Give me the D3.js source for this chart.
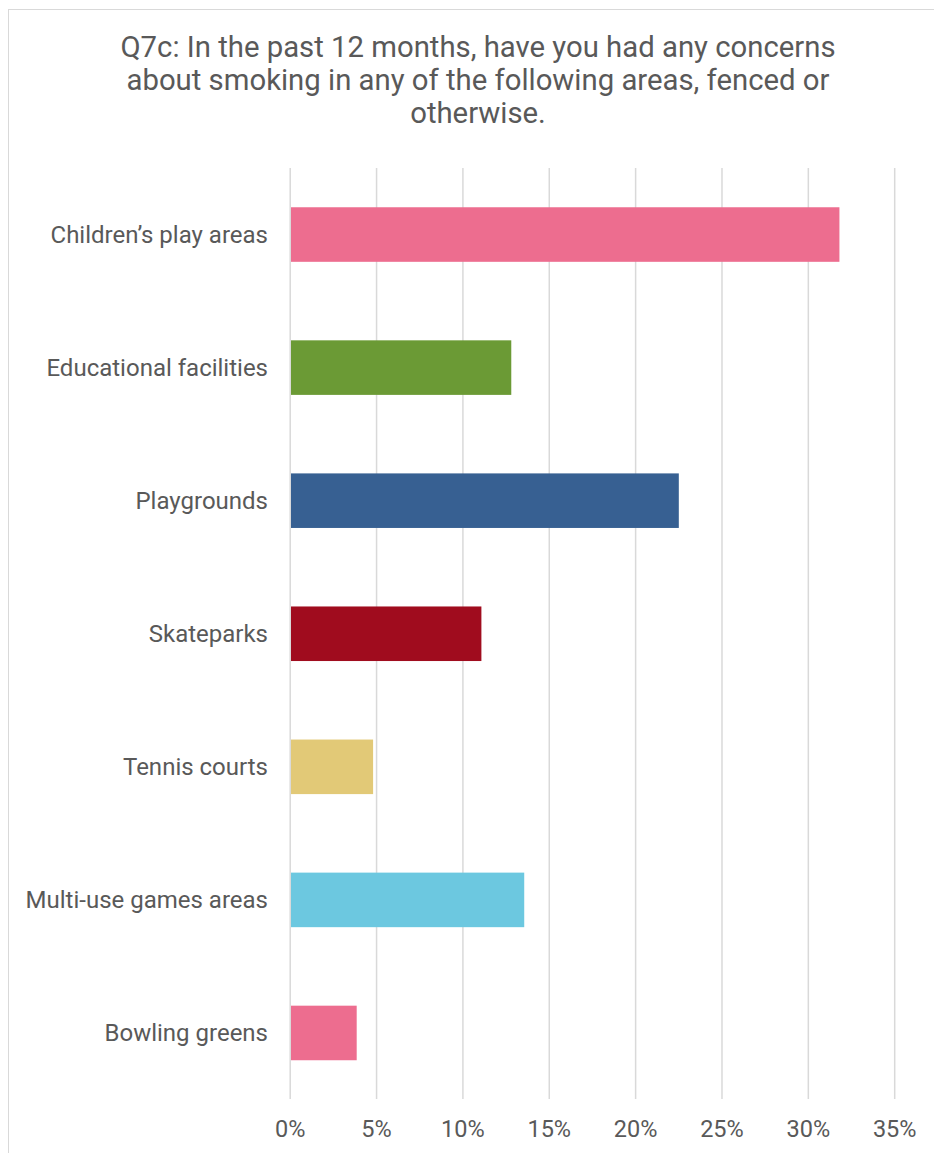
<!DOCTYPE html>
<html>
<head>
<meta charset="utf-8">
<script src="https://cdn.jsdelivr.net/npm/d3@7"></script>
<style>
  body { margin: 0; background: #fff; }
  svg { display: block; font-family: Roboto, "Noto Sans", sans-serif; }
</style>
</head>
<body>
<div id="viz"></div>
<script>
// Data
var categories = [
    'Children\u2019s play areas',
    'Educational facilities',
    'Playgrounds',
    'Skateparks',
    'Tennis courts',
    'Multi-use games areas',
    'Bowling greens'
];
var values = [31.8, 12.8, 22.5, 11.07, 4.8, 13.55, 3.85];
var barColors = ['#ED6D8F', '#6B9A35', '#376092', '#A00C1E', '#E2C977', '#6CC8E0', '#ED6D8F'];
var tickValues = [0, 5, 10, 15, 20, 25, 30, 35];
var titleLines = [
    'Q7c: In the past 12 months, have you had any concerns',
    'about smoking in any of the following areas, fenced or',
    'otherwise.'
];

var width = 934;
var height = 1153;
var textColor = '#595959';

var svg = d3.select('#viz')
    .append('svg')
    .attr('width', width)
    .attr('height', height);

// chart border (runs off the right and bottom edges)
svg.append('rect')
    .attr('x', 8.5)
    .attr('y', 9.5)
    .attr('width', 940)
    .attr('height', 1160)
    .attr('fill', 'none')
    .attr('stroke', '#d9d9d9')
    .attr('stroke-width', 1);

// title
svg.append('text')
    .attr('x', 478)
    .attr('y', 57)
    .attr('text-anchor', 'middle')
    .attr('fill', textColor)
    .style('font-size', '29.3px')
    .selectAll('tspan')
    .data(titleLines)
    .enter().append('tspan')
    .attr('x', 478)
    .attr('dy', function (d, i) { return i === 0 ? 0 : 33; })
    .text(function (d) { return d; });

var x = d3.scaleLinear()
    .domain([0, 35])
    .range([290.2, 894.7]);

var y = d3.scaleBand()
    .domain(categories)
    .range([168, 1099.5])
    .paddingInner(0.59)
    .paddingOuter(0.295);

// gridlines
svg.append('g')
    .selectAll('line')
    .data(tickValues)
    .enter().append('line')
    .attr('x1', function (d) { return x(d); })
    .attr('x2', function (d) { return x(d); })
    .attr('y1', 168)
    .attr('y2', 1099)
    .attr('stroke', '#d9d9d9')
    .attr('stroke-width', 1.5);

// x tick labels
svg.append('g')
    .selectAll('text')
    .data(tickValues)
    .enter().append('text')
    .attr('x', function (d) { return x(d); })
    .attr('y', 1137)
    .attr('text-anchor', 'middle')
    .attr('fill', textColor)
    .style('font-size', '23.5px')
    .text(function (d) { return d + '%'; });

// bars
svg.append('g')
    .selectAll('rect')
    .data(values)
    .enter().append('rect')
    .attr('x', x(0) + 0.8)
    .attr('y', function (d, i) { return y(categories[i]); })
    .attr('width', function (d) { return x(d) - x(0) - 0.8; })
    .attr('height', y.bandwidth())
    .attr('fill', function (d, i) { return barColors[i]; });

// category labels
svg.append('g')
    .selectAll('text')
    .data(categories)
    .enter().append('text')
    .attr('x', 268)
    .attr('y', function (d) { return y(d) + y.bandwidth() / 2; })
    .attr('dy', '0.35em')
    .attr('text-anchor', 'end')
    .attr('fill', textColor)
    .style('font-size', '24px')
    .text(function (d) { return d; });
</script>
</body>
</html>
